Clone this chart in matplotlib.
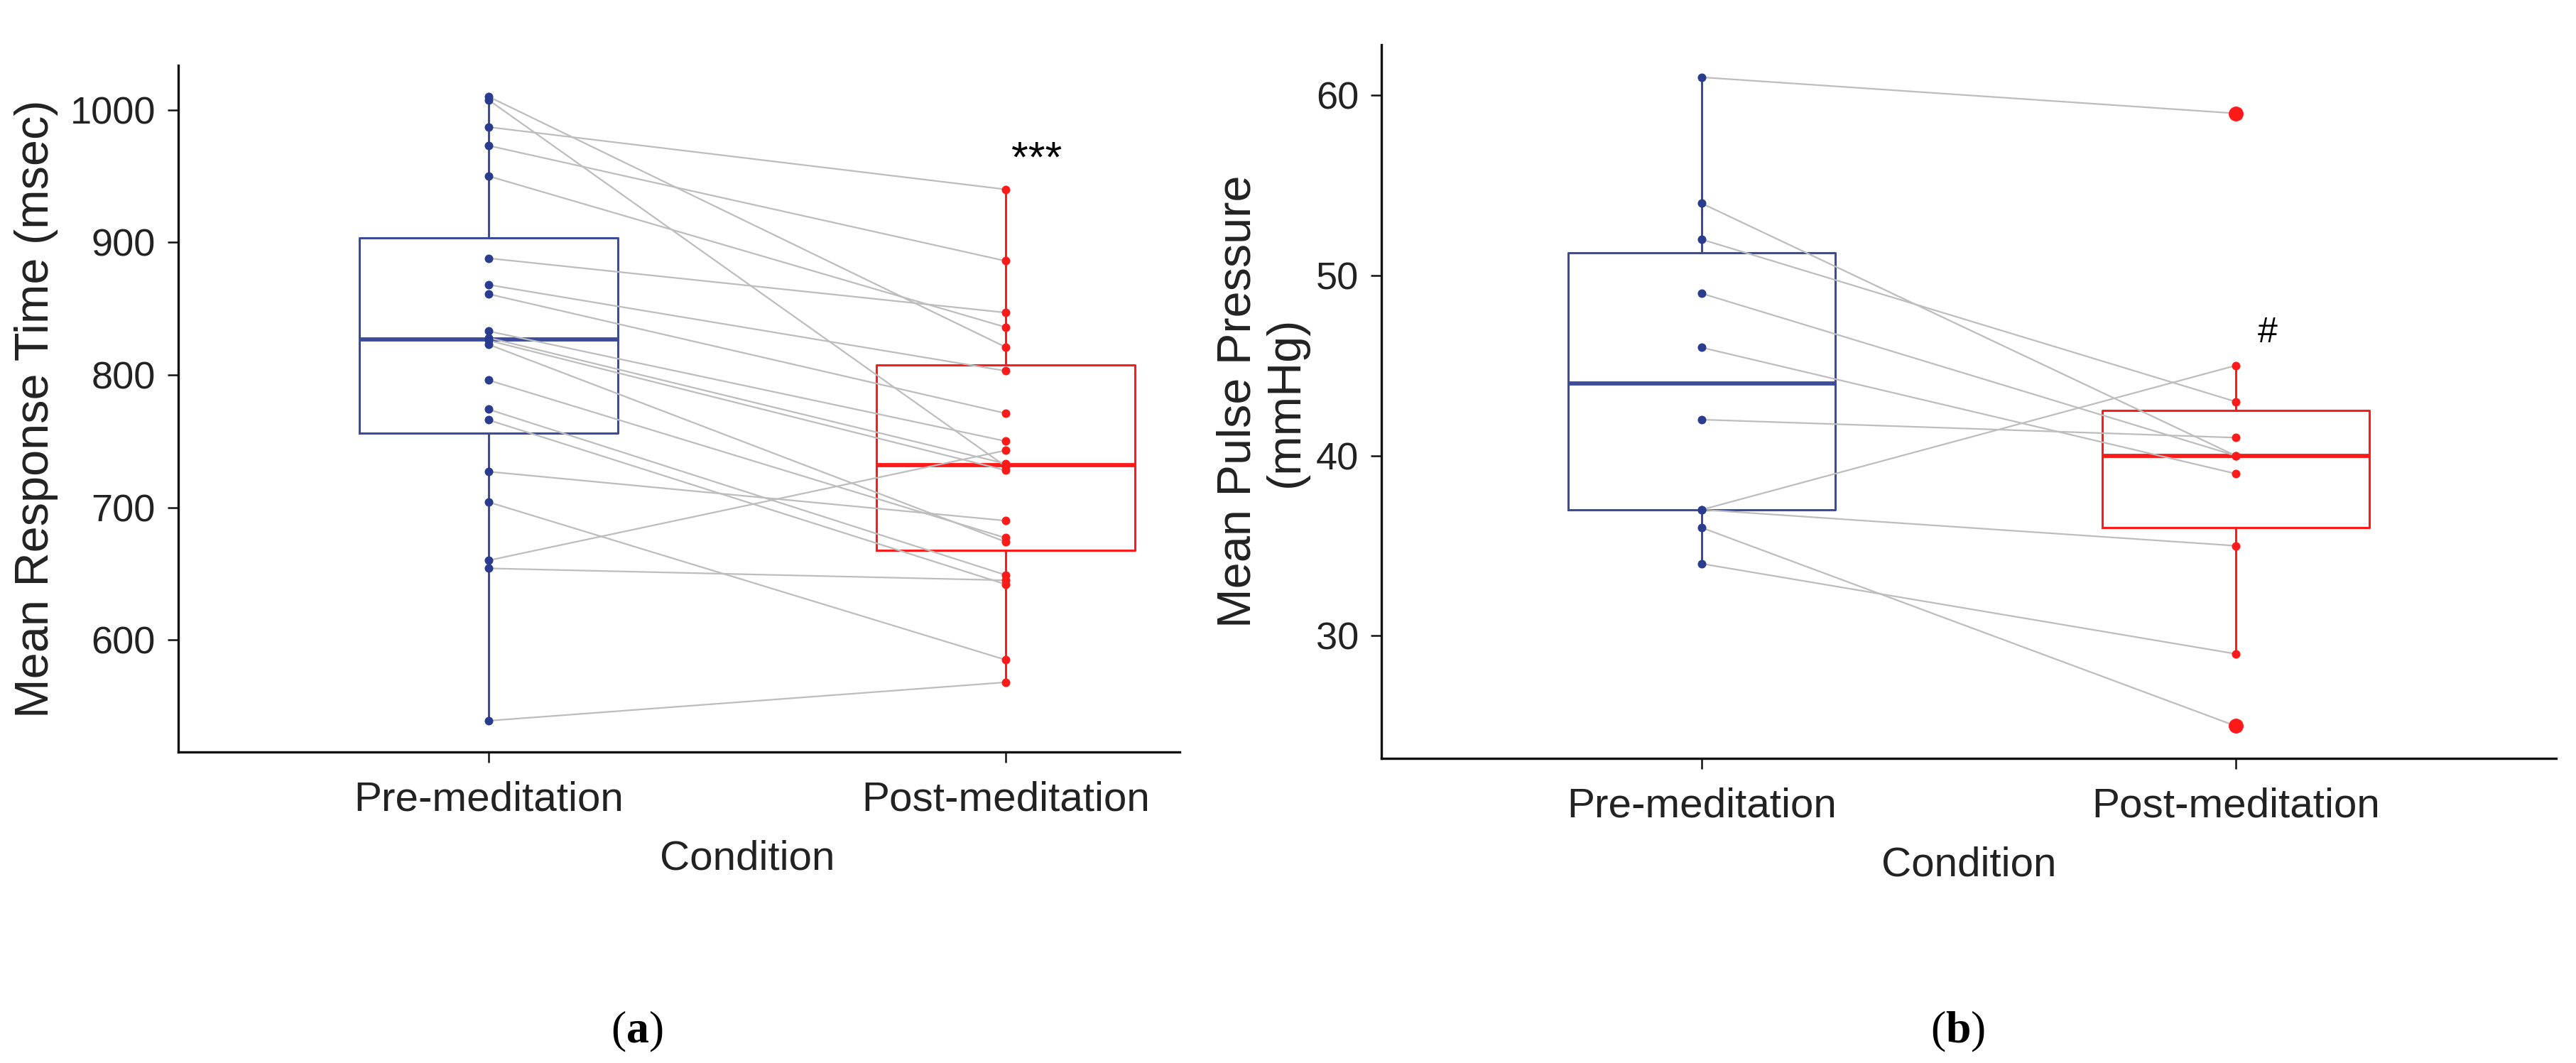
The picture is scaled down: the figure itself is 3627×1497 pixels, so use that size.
import numpy as np
import matplotlib
matplotlib.use('Agg')
from matplotlib import pyplot as plt

# values, paired by subject (pre[i] -> post[i])
conditions = ["Pre-meditation", "Post-meditation"]

pre_rt = [1010, 1007.5, 987, 973, 950, 888, 868, 861, 833, 828, 826, 823,
          796, 774, 766, 727, 704, 660, 654, 539]
post_rt = [821, 731, 940, 886, 836, 847, 803, 771, 750, 733, 728, 674,
           677, 649, 642, 690, 585, 743, 645, 568]
rt_ticks = [600, 700, 800, 900, 1000]

pre_pp = [61, 54, 52, 49, 46, 42, 37, 37, 36, 34]
post_pp = [59, 40, 43, 40, 39, 41, 45, 35, 25, 29]
pp_ticks = [30, 40, 50, 60]

BLUE_BOX = '#3B4C9C'
BLUE_PT = '#2A3C90'
RED = '#FF1A1A'
GREY = '#BDBDBD'
TEXT = '#222222'
SANS = ['Liberation Sans', 'DejaVu Sans']

plt.rcParams['font.family'] = SANS
plt.rcParams['mathtext.fontset'] = 'custom'
plt.rcParams['mathtext.rm'] = 'Liberation Serif'
plt.rcParams['mathtext.bf'] = 'Liberation Serif:bold'


def draw_panel(ax, pre, post, ticks):
    bp = ax.boxplot([pre, post], positions=[1, 2], widths=0.5, showcaps=False,
                    manage_ticks=False, whis=1.5)
    for i, col in enumerate([BLUE_BOX, RED]):
        bp['boxes'][i].set(color=col, linewidth=2.2, zorder=1.5)
        bp['medians'][i].set(color=col, linewidth=4.2, zorder=1.5)
        for w in bp['whiskers'][2 * i:2 * i + 2]:
            w.set(color=col, linewidth=2.2, zorder=1.5)
        bp['fliers'][i].set(marker='o', markerfacecolor=col, markeredgecolor=col,
                            markersize=14, zorder=3)

    # paired subject lines
    for a, b in zip(pre, post):
        ax.plot([1, 2], [a, b], color=GREY, linewidth=1.6, zorder=2)

    ax.scatter(np.ones(len(pre)), pre, s=75, color=BLUE_PT, zorder=3, linewidths=0)
    ax.scatter(np.full(len(post), 2), post, s=75, color=RED, zorder=3, linewidths=0)

    allv = pre + post
    lo, hi = min(allv), max(allv)
    pad = 0.05 * (hi - lo)
    ax.set_ylim(lo - pad, hi + pad)
    ax.set_yticks(ticks)
    ax.set_xticks([1, 2])
    ax.set_xticklabels(conditions)

    for s in ['top', 'right']:
        ax.spines[s].set_visible(False)
    for s in ['left', 'bottom']:
        ax.spines[s].set_linewidth(2.4)
        ax.spines[s].set_color('#111111')
    ax.tick_params(axis='both', length=11, width=1.8, color='#111111', labelcolor=TEXT)
    ax.tick_params(axis='y', pad=12, labelsize=39)
    ax.tick_params(axis='x', pad=18, labelsize=42)


fig = plt.figure(figsize=(36.27, 14.97), dpi=100)

ax1 = fig.add_axes([0.0692, 0.2926, 0.3888, 0.6459])
draw_panel(ax1, pre_rt, post_rt, rt_ticks)
ax1.set_xlim(0.4, 2.337)
ax1.text(0.568, -0.156, "Condition", transform=ax1.transAxes, ha='center', va='center',
         fontsize=42, color=TEXT)
ax1.text(-0.142, 0.5, "Mean Response Time (msec)", transform=ax1.transAxes,
         rotation=90, ha='center', va='center', fontsize=48, color=TEXT)
ax1.text(2.06, 962, "***", ha='center', va='center', fontsize=44, color='black')

ax2 = fig.add_axes([0.5363, 0.2866, 0.4559, 0.6712])
draw_panel(ax2, pre_pp, post_pp, pp_ticks)
ax2.set_xlim(0.4, 2.6)
ax2.text(0.5, -0.150, "Condition", transform=ax2.transAxes, ha='center', va='center',
         fontsize=42, color=TEXT)
ax2.text(-0.1016, 0.5, "Mean Pulse Pressure\n(mmHg)", transform=ax2.transAxes,
         rotation=90, ha='center', va='center', fontsize=48, color=TEXT,
         linespacing=1.1, multialignment='center')
ax2.text(2.06, 46.8, "#", ha='center', va='center', fontsize=36, color='black')

fig.text(0.2473, 0.0294, r"($\mathbf{a}$)", ha='center', va='center', fontsize=46,
         family='Liberation Serif')
fig.text(0.760, 0.0294, r"($\mathbf{b}$)", ha='center', va='center', fontsize=46,
         family='Liberation Serif')

fig.savefig('out.png', dpi=100, facecolor='white')
